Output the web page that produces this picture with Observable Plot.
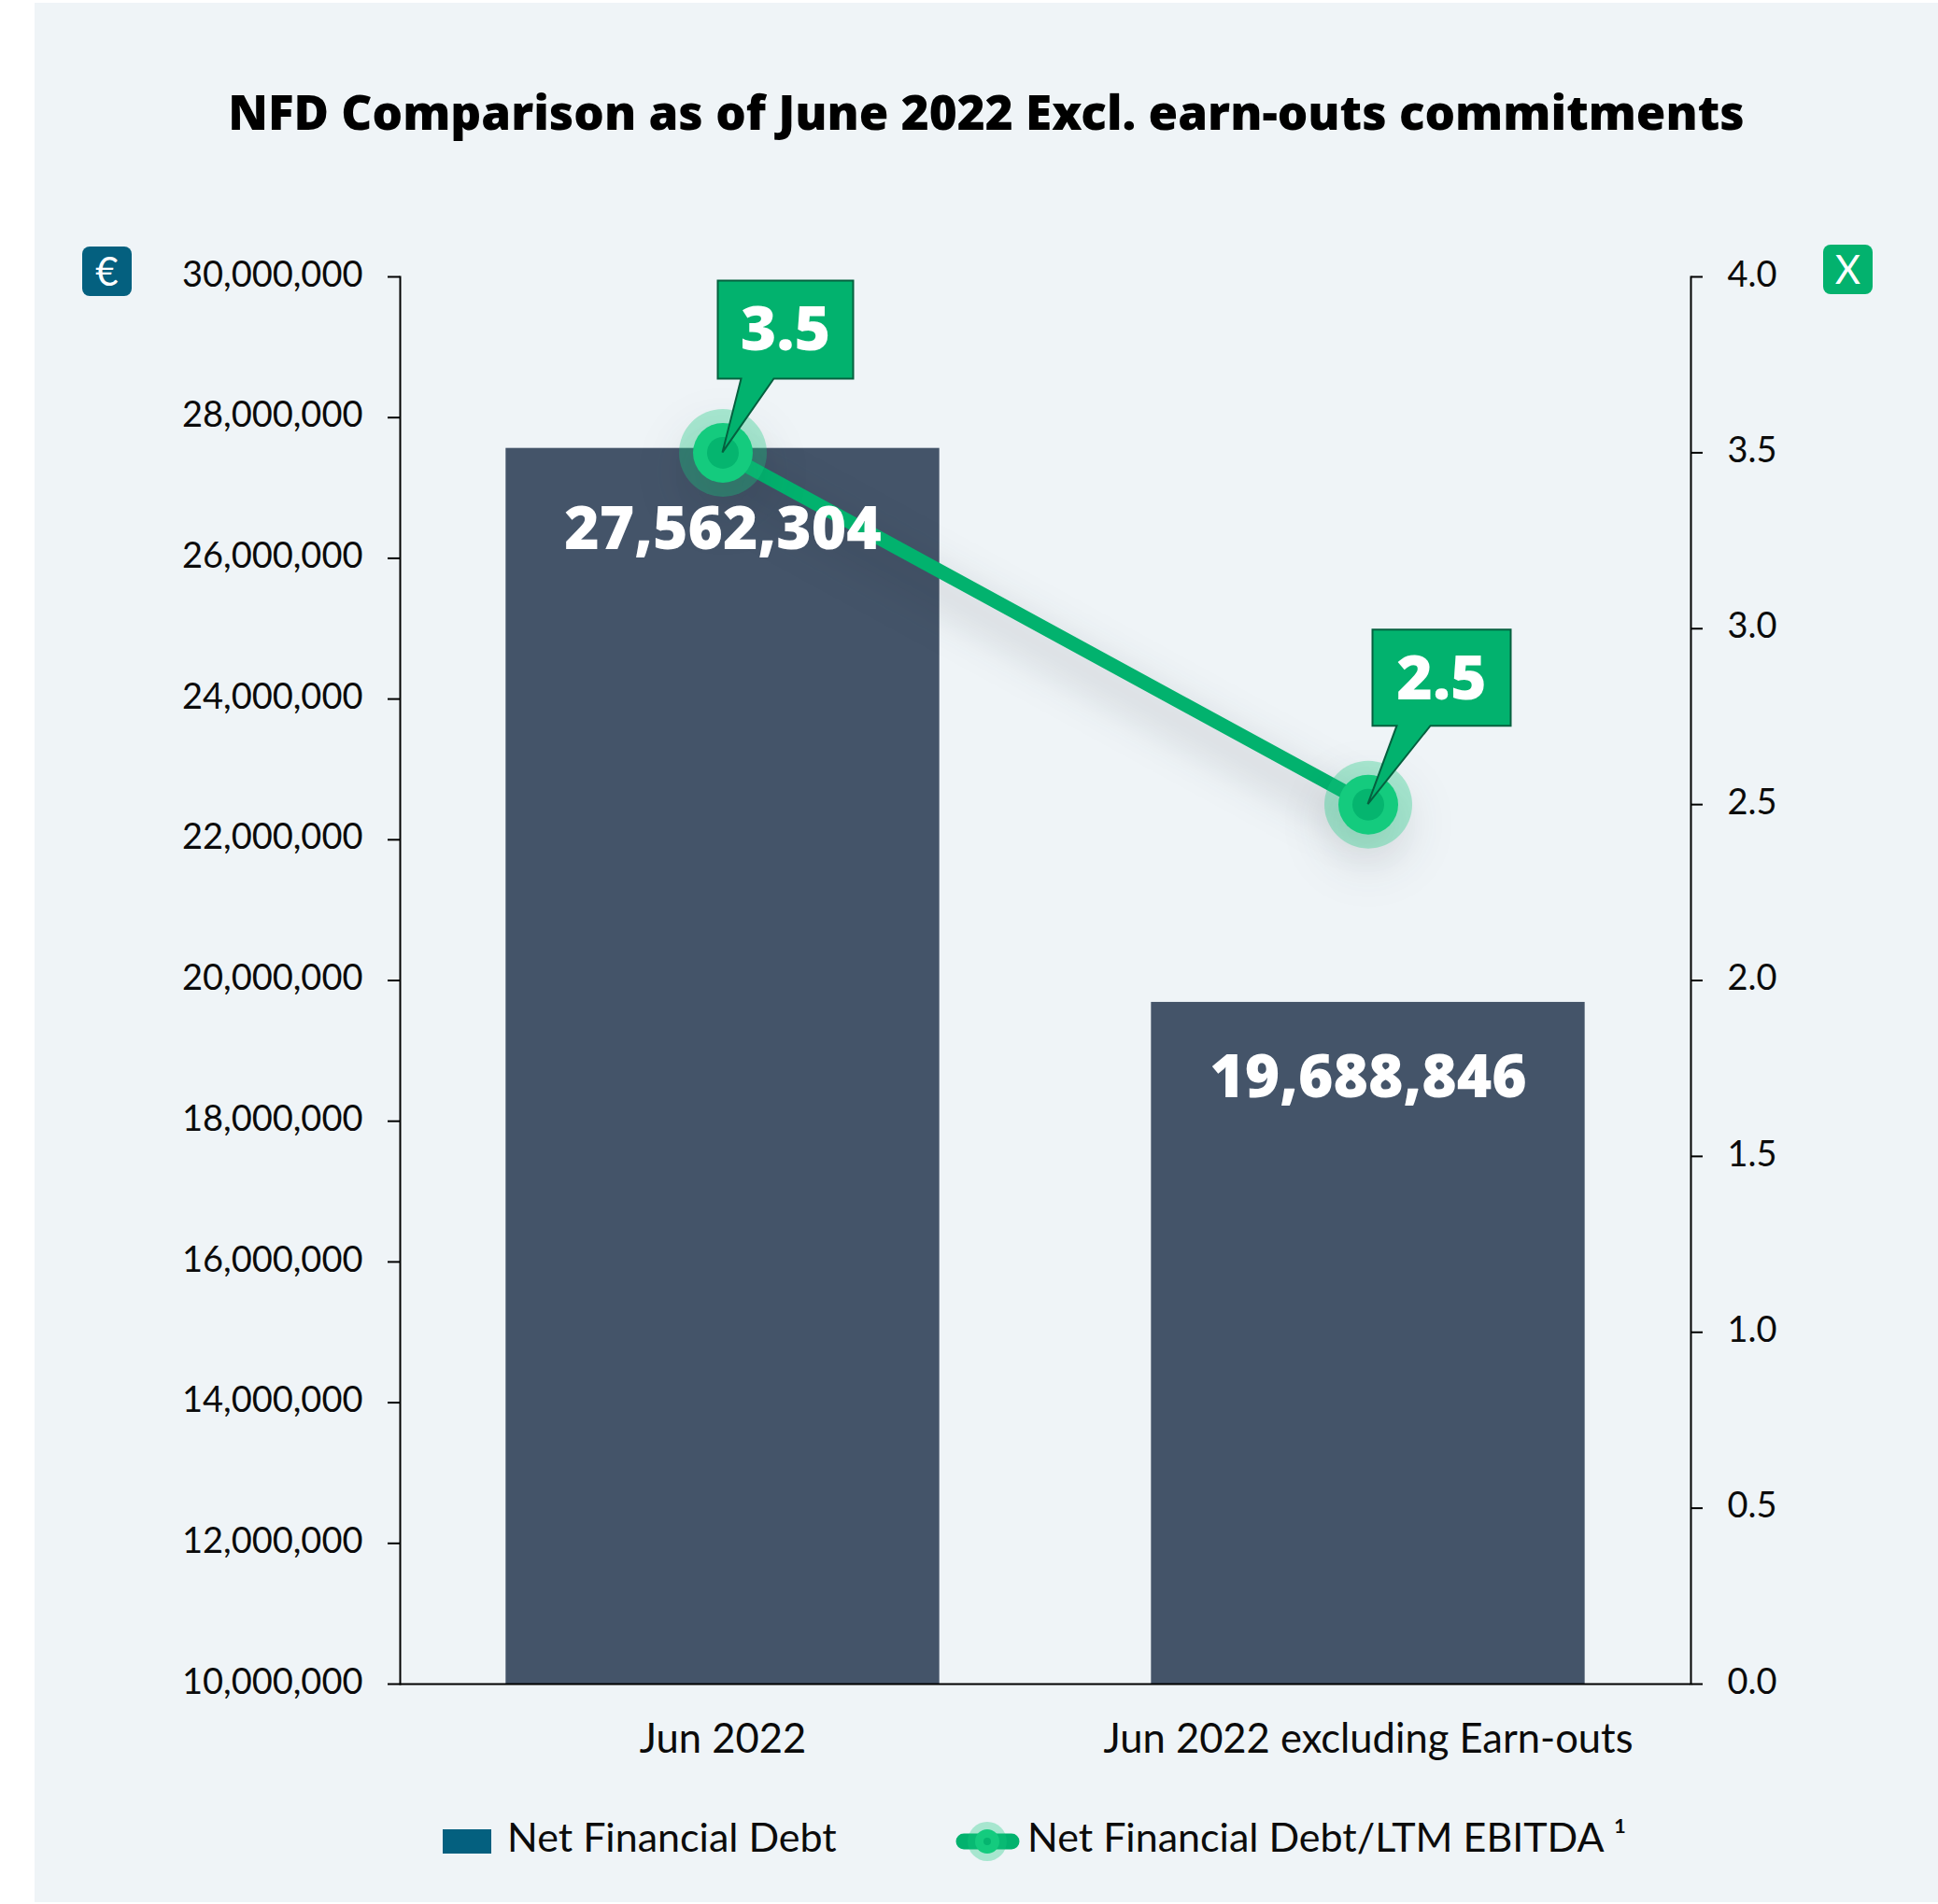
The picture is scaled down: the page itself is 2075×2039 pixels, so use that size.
<!DOCTYPE html>
<html>
<head>
<meta charset="utf-8">
<script src="https://cdn.jsdelivr.net/npm/d3@7"></script>
<script src="https://cdn.jsdelivr.net/npm/@observablehq/plot@0.6"></script>
<style>
  html, body { margin: 0; padding: 0; background: #fff; }
  body { position: relative; width: 2075px; height: 2039px; overflow: hidden; font-family: Lato, sans-serif; color: #0b0b0b; }
  #panel { position: absolute; left: 37px; top: 3px; right: 0; bottom: 2px; background: #eff4f7; }
  #title { position: absolute; left: 37px; right: 0; top: 84px; text-align: center; font-family: "Noto Sans", sans-serif; font-size: 51.2px; line-height: 70px; font-weight: 900; color: #000; white-space: nowrap; }
  #chart { position: absolute; left: 37px; top: 230px; }
  #chart svg { display: block; background: transparent; overflow: visible; }
  .badge { position: absolute; width: 53px; height: 53px; border-radius: 8px; color: #fff; text-align: center; line-height: 53px; font-size: 42px; }
  #euro { left: 88px; top: 264px; background: #04607f; }
  #times { left: 1952px; top: 262px; background: #03b26e; }
  .legend-text { position: absolute; top: 1939px; font-size: 43px; line-height: 56px; white-space: nowrap; }
  #swatch { position: absolute; left: 474px; top: 1959px; width: 52px; height: 26px; background: #04607f; }
  #legend-line { position: absolute; left: 1020px; top: 1946px; }
</style>
</head>
<body>
<div id="panel"></div>
<div id="title"></div>
<div id="euro" class="badge">€</div>
<div id="times" class="badge">X</div>
<div id="chart"></div>
<div id="swatch"></div>
<div id="legend-bar" class="legend-text" style="left:543px"></div>
<svg id="legend-line" width="75" height="52"></svg>
<div id="legend-ratio" class="legend-text" style="left:1100px"></div>
<script>
// Chart text
const chartTitle = "NFD Comparison as of June 2022 Excl. earn-outs commitments";
const barSeriesName = "Net Financial Debt";
const lineSeriesName = "Net Financial Debt/LTM EBITDA ¹";

// Series
const periods = ["Jun 2022", "Jun 2022 excluding Earn-outs"];
const netFinancialDebt = [27562304, 19688846];
const debtToEbitda = [3.5, 2.5];

// Axis ticks
const debtTicks = [10, 12, 14, 16, 18, 20, 22, 24, 26, 28, 30].map((m) => m * 1e6);
const ratioTicks = [0, 0.5, 1, 1.5, 2, 2.5, 3, 3.5, 4];

// Both axes span the same plot height: the ratio is mapped onto the debt domain
const debtDomain = [10e6, 30e6];
const ratioMax = 4;
const ratioToDebt = (r) => debtDomain[0] + (r / ratioMax) * (debtDomain[1] - debtDomain[0]);
const debtToRatio = (d) => ((d - debtDomain[0]) / (debtDomain[1] - debtDomain[0])) * ratioMax;

const rows = periods.map((period, i) => ({
  period,
  debt: netFinancialDebt[i],
  ratio: debtToEbitda[i],
  ratioY: ratioToDebt(debtToEbitda[i])
}));

// Callout shapes relative to the marker they point at
const calloutShapes = [
  { left: -5, right: 140, top: -184, bottom: -79, tailA: 20, tailB: 55 },
  { left: 5, right: 153, top: -187, bottom: -84, tailA: 31, tailB: 67 }
];
// Distance from the top of each bar down to its value label
const barLabelOffsets = [87, 81];

const green = "#02b26e";
const ringGreen = "#14cb7e";
const axisFont = { fontSize: 38, fontFamily: "Lato, sans-serif" };
const heavyFont = "'Noto Sans', sans-serif";

function callouts(index, scales) {
  const g = d3.create("svg:g");
  const band = typeof scales.x.bandwidth === "function" ? scales.x.bandwidth() : (scales.x.bandwidth || 0);
  rows.forEach((row, i) => {
    const cx = scales.x(row.period) + band / 2;
    const cy = scales.y(row.ratioY);
    const s = calloutShapes[i];
    const path = d3.path();
    path.moveTo(cx + s.left, cy + s.top);
    path.lineTo(cx + s.right, cy + s.top);
    path.lineTo(cx + s.right, cy + s.bottom);
    path.lineTo(cx + s.tailB, cy + s.bottom);
    path.lineTo(cx, cy);
    path.lineTo(cx + s.tailA, cy + s.bottom);
    path.lineTo(cx + s.left, cy + s.bottom);
    path.closePath();
    g.append("path")
      .attr("d", path.toString())
      .attr("fill", green)
      .attr("stroke", "#05603f")
      .attr("stroke-width", 2)
      .attr("stroke-linejoin", "miter");
    g.append("text")
      .attr("x", cx + (s.left + s.right) / 2)
      .attr("y", cy + s.top + 75)
      .attr("text-anchor", "middle")
      .attr("fill", "#fff")
      .attr("font-family", heavyFont)
      .attr("font-weight", 900)
      .attr("font-size", 66)
      .text(row.ratio.toFixed(1));
  });
  return g.node();
}

const chart = Plot.plot({
  width: 2038,
  height: 1670,
  marginLeft: 391,
  marginRight: 265,
  marginTop: 66,
  marginBottom: 97,
  style: { background: "transparent", overflow: "visible" },
  x: { type: "band", domain: periods, paddingInner: 0.328, paddingOuter: 0.164, round: false, label: null },
  y: { domain: debtDomain, label: null },
  marks: [
    Plot.barY(rows, { x: "period", y1: () => debtDomain[0], y2: "debt", fill: "#445469" }),
    Plot.ruleY([debtDomain[0]], { stroke: "#000", strokeWidth: 2 }),
    Plot.frame({ anchor: "left", stroke: "#000", strokeWidth: 2 }),
    Plot.frame({ anchor: "right", stroke: "#000", strokeWidth: 2 }),
    // Tick marks and tick labels are separate layers so the labels can sit slightly above their ticks
    Plot.axisY({ ticks: debtTicks, tickSize: 13, stroke: "#000", strokeWidth: 2, fill: "none", label: null, anchor: "left" }),
    Plot.axisY({
      ticks: debtTicks, tickFormat: d3.format(","), tickSize: 0, tickPadding: 40, dy: -2,
      stroke: "none", fill: "#0b0b0b", label: null, anchor: "left", ...axisFont
    }),
    Plot.axisY({ ticks: ratioTicks.map(ratioToDebt), tickSize: 12, stroke: "#000", strokeWidth: 2, fill: "none", label: null, anchor: "right" }),
    Plot.axisY({
      ticks: ratioTicks.map(ratioToDebt), tickFormat: (d) => debtToRatio(d).toFixed(1), tickSize: 0, tickPadding: 39, dy: -2,
      stroke: "none", fill: "#0b0b0b", label: null, anchor: "right", ...axisFont
    }),
    Plot.axisX({ tickSize: 0, tickPadding: 43, fill: "#0b0b0b", label: null, fontSize: 43.5, fontFamily: "Lato, sans-serif" }),
    Plot.line(rows, {
      x: "period", y: "ratioY", stroke: green, strokeWidth: 15,
      imageFilter: "drop-shadow(0px 20px 24px rgba(30,40,50,0.32))"
    }),
    Plot.dot(rows, {
      x: "period", y: "ratioY", r: 47, fill: ringGreen, fillOpacity: 0.33,
      imageFilter: "drop-shadow(0px 20px 24px rgba(30,40,50,0.32))"
    }),
    Plot.dot(rows, { x: "period", y: "ratioY", r: 32, fill: ringGreen }),
    Plot.dot(rows, { x: "period", y: "ratioY", r: 17, fill: "#05b56f" }),
    ...rows.map((row, i) => Plot.text([row], {
      x: "period", y: "debt", text: (d) => d3.format(",")(d.debt), dy: barLabelOffsets[i],
      fill: "#fff", fontSize: 64, fontWeight: 900, fontFamily: heavyFont
    })),
    callouts
  ]
});
document.getElementById("chart").append(chart);

document.getElementById("title").textContent = chartTitle;
document.getElementById("legend-bar").textContent = barSeriesName;
document.getElementById("legend-ratio").textContent = lineSeriesName;

// Legend key for the ratio series
const key = d3.select("#legend-line");
key.append("line").attr("x1", 12).attr("x2", 63).attr("y1", 26).attr("y2", 26)
  .attr("stroke", green).attr("stroke-width", 17).attr("stroke-linecap", "round");
key.append("circle").attr("cx", 37).attr("cy", 26).attr("r", 21).attr("fill", ringGreen).attr("fill-opacity", 0.33);
key.append("circle").attr("cx", 37).attr("cy", 26).attr("r", 13).attr("fill", ringGreen);
key.append("circle").attr("cx", 37).attr("cy", 26).attr("r", 4).attr("fill", "#05b56f");
</script>
</body>
</html>
